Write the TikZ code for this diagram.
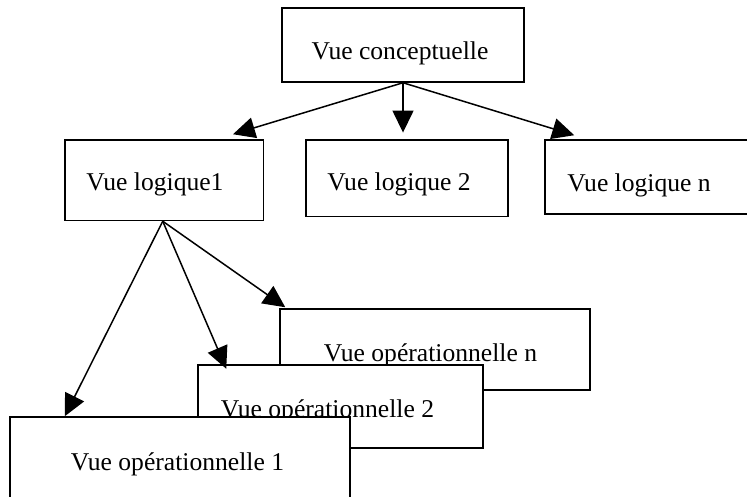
\documentclass[tikz,border=0pt]{standalone}
\usepackage{fontspec}
\setmainfont{Liberation Serif}
\usetikzlibrary{arrows.meta}
\begin{document}
\begin{tikzpicture}[x=1pt,y=-1pt,
  box/.style={draw, line width=1.5pt, fill=white, rectangle, inner sep=0pt},
  lbl/.style={anchor=base, inner sep=0pt, font=\fontsize{25.6}{30}\selectfont},
  conn/.style={line width=1.5pt, -{Triangle[length=22pt,width=21pt]}}]
\useasboundingbox (0,0) rectangle (747,497);
\clip (0,0) rectangle (747,497);
% top box
\node[box, minimum width=242pt, minimum height=74pt] (c) at (403,45) {};
\node[lbl] (tc) at (400,60) {Vue conceptuelle};
% logical views
\node[box, minimum width=198.5pt, minimum height=80.5pt] (l1) at (164.25,180.25) {};
\node[lbl] (t1) at (155,191) {Vue logique1};
\node[box, minimum width=202pt, minimum height=76.5pt] (l2) at (407,178.25) {};
\node[lbl] (t2) at (399,191) {Vue logique 2};
\node[box, minimum width=255pt, minimum height=74pt] (ln) at (672.5,177) {};
\node[lbl] (tn) at (639,191.5) {Vue logique n};
% operational views
\node[box, minimum width=310pt, minimum height=81pt] (opn) at (435,349.5) {};
\node[lbl] (topn) at (430.5,361) {Vue opérationnelle n};
\node[box, minimum width=285pt, minimum height=83pt] (op2) at (340.5,406.5) {};
\node[lbl] (top2) at (327.5,417.5) {Vue opérationnelle 2};
\node[box, minimum width=340pt, minimum height=113pt] (op1) at (180,473.5) {};
\node[lbl] (top1) at (177.5,470) {Vue opérationnelle 1};
% connectors
\draw[conn] (c.south) -- ([xshift=68.75pt,yshift=5pt]l1.north);
\draw[conn] (c.south) -- ([xshift=-4pt,yshift=6.7pt]l2.north);
\draw[conn] (c.south) -- ([xshift=30pt,yshift=4pt]ln.north west);
\draw[conn] ([xshift=-1.5pt]l1.south) -- ([xshift=6pt,yshift=1pt]opn.north west);
\draw[conn] ([xshift=-1.5pt]l1.south) -- ([xshift=29pt,yshift=-4.5pt]op2.north west);
\draw[conn] ([xshift=-1.5pt]l1.south) -- ([xshift=55.5pt]op1.north west);
\end{tikzpicture}
\end{document}
